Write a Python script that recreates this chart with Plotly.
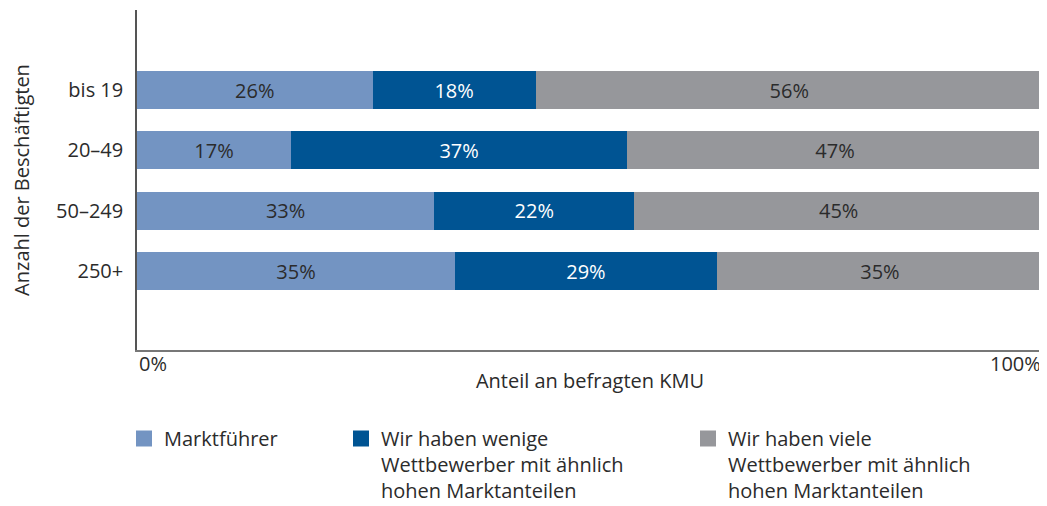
import plotly.graph_objects as go

# Categories (bottom to top in plot order)
categories = ["250+", "50–249", "20–49", "bis 19"]

# Segment widths (percent of respondents)
marktfuehrer = [35.1, 32.8, 17.0, 26.0]
wenige = [28.9, 22.1, 37.1, 18.0]
viele = [36.0, 45.1, 45.9, 56.0]

# Printed labels
marktfuehrer_lbl = ["35%", "33%", "17%", "26%"]
wenige_lbl = ["29%", "22%", "37%", "18%"]
viele_lbl = ["35%", "45%", "47%", "56%"]

series_names = [
    "Marktführer",
    "Wir haben wenige<br>Wettbewerber mit ähnlich<br>hohen Marktanteilen",
    "Wir haben viele<br>Wettbewerber mit ähnlich<br>hohen Marktanteilen",
]
colors = ["#7394c2", "#005493", "#96979b"]
text_colors = ["#2b2b2b", "#ffffff", "#2b2b2b"]

x_tick_labels = ["0%", "100%"]
x_tick_vals = [0, 100]

FONT = "Open Sans"
# page body has an 8px default margin -> figure is 8px smaller
W, H = 1039, 498
L, R, T, B = 129, 4, 2, 156

fig = go.Figure()
values = [marktfuehrer, wenige, viele]
labels = [marktfuehrer_lbl, wenige_lbl, viele_lbl]
legend_ids = ["legend", "legend2", "legend3"]
for i in range(3):
    fig.add_trace(go.Bar(
        y=categories, x=values[i], orientation="h",
        marker=dict(color=colors[i], line=dict(width=0)),
        text=labels[i], textposition="inside", insidetextanchor="middle",
        textfont=dict(color=text_colors[i], size=20, family=FONT),
        showlegend=False, hoverinfo="skip",
    ))
    # legend proxy
    fig.add_trace(go.Scatter(
        x=[None], y=[None], mode="markers", name=series_names[i],
        marker=dict(symbol="square", size=16, color=colors[i]),
        legend=legend_ids[i], showlegend=True,
    ))

pw = W - L - R
ph = H - T - B

def px_x(p):
    return (p - L) / pw

def px_y(p):
    return (H - B - p) / ph

leg_common = dict(
    orientation="v", xanchor="left", yanchor="top", valign="top",
    font=dict(family=FONT, size=20, color="#2b2b2b"),
    bgcolor="rgba(0,0,0,0)", borderwidth=0, itemsizing="trace",
)
legend_lefts = [116, 333, 680]
leg_top = 411

layout_legends = {}
for lid, lx in zip(legend_ids, legend_lefts):
    layout_legends[lid] = dict(leg_common, x=px_x(lx), y=px_y(leg_top))

for xv, txt, anchor in zip(x_tick_vals, x_tick_labels, ["left", "right"]):
    fig.add_annotation(
        x=xv, xref="x", y=px_y(340), yref="paper", text=txt, showarrow=False,
        xanchor=anchor, yanchor="top",
        font=dict(family=FONT, size=20, color="#2b2b2b"),
    )

fig.update_layout(
    width=W, height=H,
    margin=dict(l=L, r=R, t=T, b=B, pad=0, autoexpand=False),
    barmode="stack", bargap=0.37,
    plot_bgcolor="white", paper_bgcolor="white",
    font=dict(family=FONT, size=20, color="#2b2b2b"),
    uniformtext=dict(mode=False),
    xaxis=dict(
        range=[0, 100], showgrid=False, zeroline=False, automargin=False,
        showline=True, linecolor="#777777", linewidth=2,
        showticklabels=False, ticks="",
        title=dict(text="Anteil an befragten KMU", standoff=23,
                   font=dict(family=FONT, size=20, color="#2b2b2b")),
        fixedrange=True,
    ),
    yaxis=dict(
        range=[-1.31, 4.33], showgrid=False, zeroline=False, automargin=False,
        showline=True, linecolor="#555555", linewidth=1.5,
        ticks="", ticklabelstandoff=8,
        tickfont=dict(family=FONT, size=20, color="#2b2b2b"),
        title=dict(text="Anzahl der Beschäftigten", standoff=25,
                   font=dict(family=FONT, size=20, color="#2b2b2b")),
        fixedrange=True,
    ),
    **layout_legends,
)

fig.write_html("out.html")
